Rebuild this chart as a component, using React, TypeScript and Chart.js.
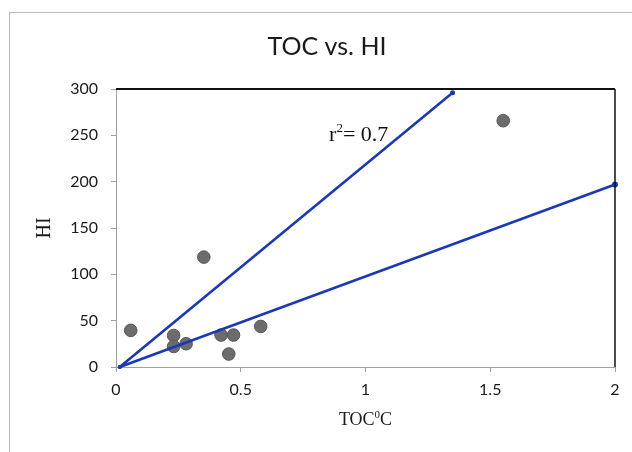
import React, { useEffect, useRef } from "react";
import { Chart, registerables } from "chart.js";

Chart.register(...registerables);

const titleText = "TOC vs. HI";
const xTitleMain = "TOC";
const xTitleSup = "0";
const xTitleEnd = "C";
const yTitleText = "HI";
const annotationMain = "r";
const annotationSup = "2";
const annotationRest = "= 0.7";
const annotationAt = { x: 0.854, y: 244 };

const tocValues = [0.059, 0.352, 0.231, 0.231, 0.281, 0.421, 0.471, 0.452, 0.58, 1.552];
const hiValues = [39.5, 118.6, 34, 22.2, 25.1, 34.5, 34.5, 14, 43.8, 265.8];

const trendUpperX = [0.015, 1.349];
const trendUpperY = [0, 296];
const trendLowerX = [0.015, 2];
const trendLowerY = [0, 197];

const xTicks = [0, 0.5, 1, 1.5, 2];
const yTicks = [0, 50, 100, 150, 200, 250, 300];

const BLUE = "#1b39b2";
const SERIF = "'Liberation Serif', 'Times New Roman', serif";
const SANS = "Lato, 'Noto Sans', sans-serif";

const decorPlugin = {
  id: "decor",
  beforeDraw(chart: any) {
    const ctx = chart.ctx;
    ctx.save();
    ctx.fillStyle = "#ffffff";
    ctx.fillRect(0, 0, chart.width, chart.height);
    ctx.strokeStyle = "#b8b8b8";
    ctx.lineWidth = 1;
    ctx.strokeRect(9.5, 12.5, chart.width + 20, chart.height + 20);
    ctx.restore();
  },
  afterDraw(chart: any) {
    const ctx = chart.ctx;
    const { left, right, top, bottom } = chart.chartArea;
    const xs = chart.scales.x;
    const ys = chart.scales.y;
    ctx.save();
    // top and right frame
    ctx.strokeStyle = "#111111";
    ctx.lineWidth = 2;
    ctx.beginPath();
    ctx.moveTo(left, top);
    ctx.lineTo(right, top);
    ctx.stroke();
    ctx.lineWidth = 1.5;
    ctx.beginPath();
    ctx.moveTo(right, top);
    ctx.lineTo(right, bottom);
    ctx.stroke();

    // title
    ctx.fillStyle = "#1a1a1a";
    ctx.font = `25px ${SANS}`;
    ctx.textAlign = "center";
    ctx.textBaseline = "alphabetic";
    ctx.fillText(titleText, 327, 54.5);

    // y title
    ctx.font = `20px ${SERIF}`;
    ctx.save();
    ctx.translate(50, (top + bottom) / 2);
    ctx.rotate(-Math.PI / 2);
    ctx.textAlign = "center";
    ctx.fillText(yTitleText, 0, 0);
    ctx.restore();

    // x title with superscript
    const mainFont = `18px ${SERIF}`;
    const supFont = `11px ${SERIF}`;
    ctx.textAlign = "left";
    ctx.font = mainFont;
    const w1 = ctx.measureText(xTitleMain).width;
    const w3 = ctx.measureText(xTitleEnd).width;
    ctx.font = supFont;
    const w2 = ctx.measureText(xTitleSup).width;
    const total = w1 + w2 + w3;
    const x0 = (left + right) / 2 - total / 2;
    const base = 425;
    ctx.font = mainFont;
    ctx.fillText(xTitleMain, x0, base);
    ctx.font = supFont;
    ctx.fillText(xTitleSup, x0 + w1, base - 7);
    ctx.font = mainFont;
    ctx.fillText(xTitleEnd, x0 + w1 + w2, base);

    // annotation r^2
    const ax = xs.getPixelForValue(annotationAt.x);
    const ay = ys.getPixelForValue(annotationAt.y);
    const aFont = `22px ${SERIF}`;
    const aSup = `13px ${SERIF}`;
    ctx.fillStyle = "#111111";
    ctx.font = aFont;
    ctx.fillText(annotationMain, ax, ay);
    const rw = ctx.measureText(annotationMain).width;
    ctx.font = aSup;
    ctx.fillText(annotationSup, ax + rw, ay - 9);
    const sw = ctx.measureText(annotationSup).width;
    ctx.font = aFont;
    ctx.fillText(annotationRest, ax + rw + sw, ay);
    ctx.restore();
  },
};

export default function App() {
  const ref = useRef<HTMLCanvasElement>(null);

  useEffect(() => {
    if (!ref.current) return;
    const scatter = tocValues.map((x, i) => ({ x, y: hiValues[i] }));
    const upper = trendUpperX.map((x, i) => ({ x, y: trendUpperY[i] }));
    const lower = trendLowerX.map((x, i) => ({ x, y: trendLowerY[i] }));

    const chart = new Chart(ref.current, {
      type: "scatter",
      data: {
        datasets: [
          {
            label: "samples",
            data: scatter,
            pointRadius: 6.3,
            pointBackgroundColor: "#6c6c6c",
            pointBorderColor: "#585858",
            pointBorderWidth: 1,
            showLine: false,
            order: 2,
          },
          {
            label: "upper",
            data: upper,
            showLine: true,
            borderColor: BLUE,
            borderWidth: 2.6,
            pointRadius: [2, 2.5],
            pointBackgroundColor: BLUE,
            pointBorderWidth: 0,
            clip: false,
            order: 1,
          },
          {
            label: "lower",
            data: lower,
            showLine: true,
            borderColor: BLUE,
            borderWidth: 2.6,
            pointRadius: [2, 3],
            pointBackgroundColor: BLUE,
            pointBorderWidth: 0,
            clip: false,
            order: 1,
          },
        ] as any,
      },
      options: {
        animation: false,
        responsive: false,
        layout: { padding: { left: 0, top: 89, right: 17, bottom: 0 } },
        plugins: {
          legend: { display: false },
          title: { display: false },
          tooltip: { enabled: false },
        },
        scales: {
          x: {
            type: "linear",
            min: 0,
            max: 2,
            afterBuildTicks: (s: any) => {
              s.ticks = xTicks.map((v) => ({ value: v }));
            },
            afterFit: (s: any) => {
              s.height = 85;
            },
            grid: {
              drawOnChartArea: false,
              drawTicks: true,
              tickLength: 5,
              color: "#a0a0a0",
            },
            border: { display: true, color: "#a0a0a0", width: 1 },
            ticks: {
              padding: 8,
              color: "#1a1a1a",
              font: { family: SANS, size: 16 },
              maxRotation: 0,
              callback: (v: any) => String(v),
            },
          },
          y: {
            type: "linear",
            min: 0,
            max: 300,
            afterBuildTicks: (s: any) => {
              s.ticks = yTicks.map((v) => ({ value: v }));
            },
            afterFit: (s: any) => {
              s.width = 116;
            },
            grid: {
              drawOnChartArea: false,
              drawTicks: true,
              tickLength: 5,
              color: "#a0a0a0",
            },
            border: { display: true, color: "#a0a0a0", width: 1 },
            ticks: {
              padding: 13,
              color: "#1a1a1a",
              font: { family: SANS, size: 16 },
              callback: (v: any) => String(v),
            },
          },
        },
      },
      plugins: [decorPlugin],
    });
    return () => chart.destroy();
  }, []);

  return (
    <div style={{ position: "fixed", left: 0, top: 0, width: 632, height: 452, background: "#fff" }}>
      <canvas ref={ref} width={632} height={452} style={{ display: "block" }} />
    </div>
  );
}
